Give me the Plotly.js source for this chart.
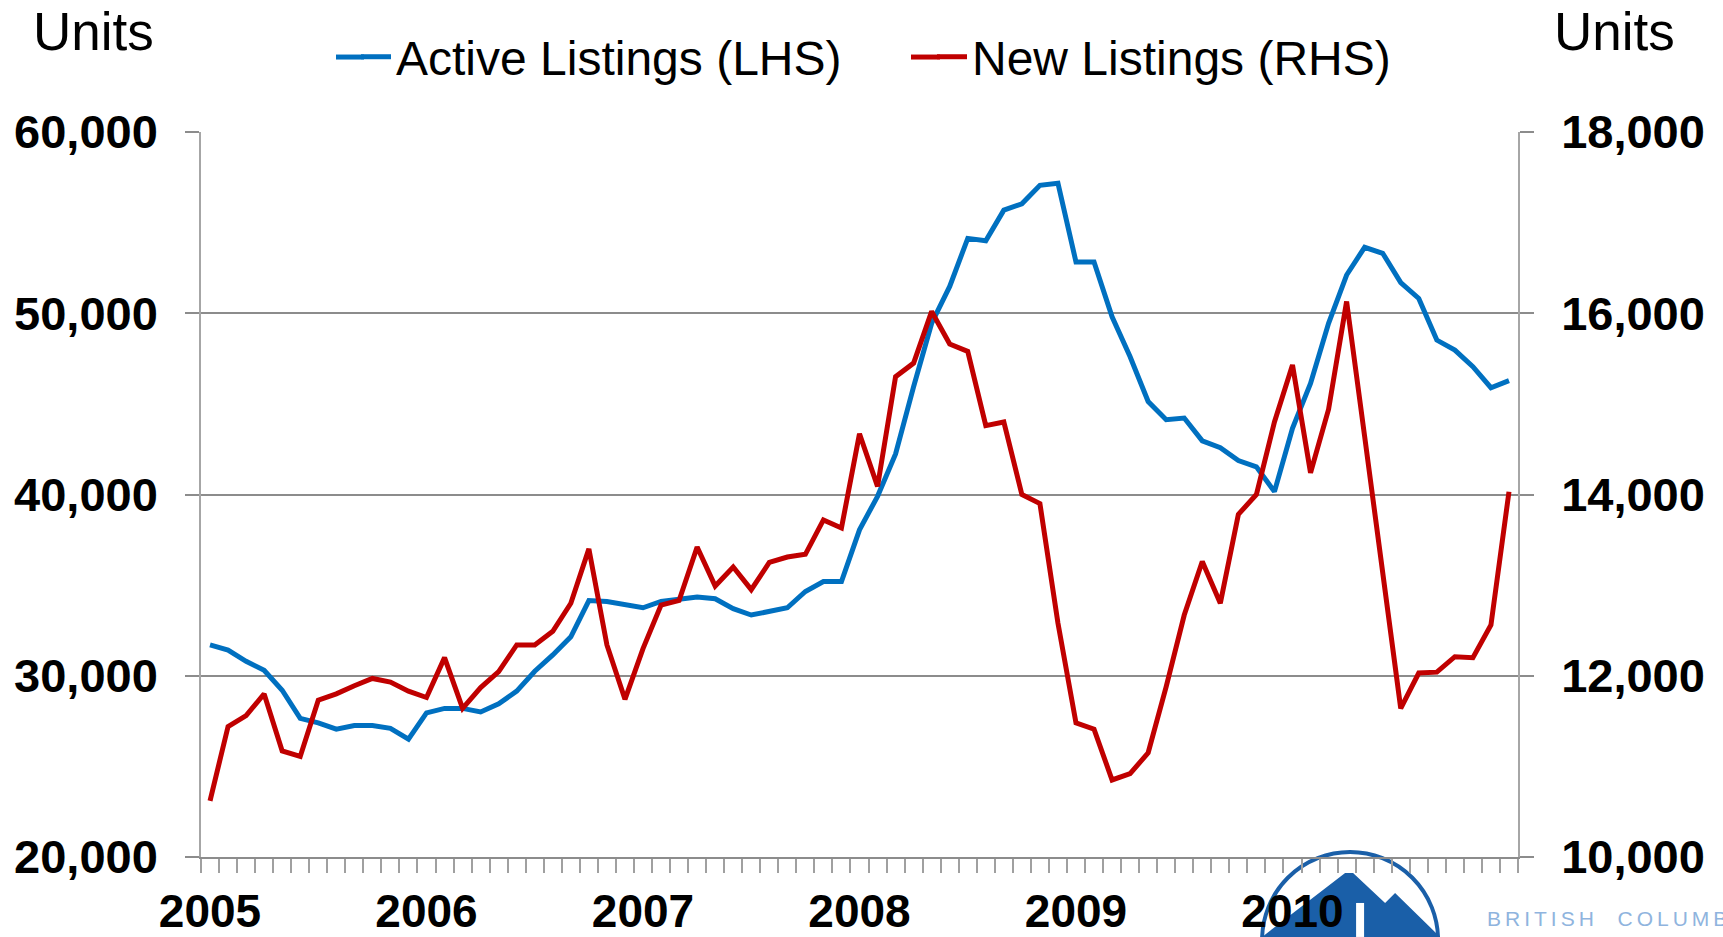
<!DOCTYPE html>
<html>
<head>
<meta charset="utf-8">
<script src="https://cdn.plot.ly/plotly-3.0.1.min.js"></script>
<style>
  html, body { margin: 0; padding: 0; background: #ffffff; }
  #chart { width: 1723px; height: 937px; }
  g.annotation[data-index="2"] text { letter-spacing: 4px; }
</style>
</head>
<body>
<div id="chart"></div>
<script>
// Monthly categories, Jan 2005 - Jan 2011
const months = [
  'Jan 2005','Feb 2005','Mar 2005','Apr 2005','May 2005','Jun 2005','Jul 2005','Aug 2005','Sep 2005','Oct 2005','Nov 2005','Dec 2005',
  'Jan 2006','Feb 2006','Mar 2006','Apr 2006','May 2006','Jun 2006','Jul 2006','Aug 2006','Sep 2006','Oct 2006','Nov 2006','Dec 2006',
  'Jan 2007','Feb 2007','Mar 2007','Apr 2007','May 2007','Jun 2007','Jul 2007','Aug 2007','Sep 2007','Oct 2007','Nov 2007','Dec 2007',
  'Jan 2008','Feb 2008','Mar 2008','Apr 2008','May 2008','Jun 2008','Jul 2008','Aug 2008','Sep 2008','Oct 2008','Nov 2008','Dec 2008',
  'Jan 2009','Feb 2009','Mar 2009','Apr 2009','May 2009','Jun 2009','Jul 2009','Aug 2009','Sep 2009','Oct 2009','Nov 2009','Dec 2009',
  'Jan 2010','Feb 2010','Mar 2010','Apr 2010','May 2010','Jun 2010','Jul 2010','Aug 2010','Sep 2010','Oct 2010','Nov 2010','Dec 2010',
  'Jan 2011'
];

// Active Listings (LHS), units
const activeListings = [
  31700, 31420, 30800, 30300, 29200, 27650, 27400, 27050, 27250, 27250, 27100, 26500,
  27950, 28200, 28200, 28000, 28450, 29150, 30250, 31150, 32150, 34150, 34100, 33900,
  33750, 34100, 34250, 34350, 34250, 33700, 33350, 33550, 33750, 34650, 35200, 35200,
  38050, 39900, 42240, 45950, 49450, 51480, 54130, 54000, 55690, 56040, 57060, 57170,
  52830, 52830, 49800, 47600, 45130, 44130, 44220, 42960, 42580, 41870, 41530, 40160,
  43650, 46130, 49440, 52110, 53640, 53310, 51690, 50820, 48520, 47970, 47050, 45890,
  46280
];

// New Listings (RHS), units
const newListings = [
  10620, 11440, 11560, 11800, 11170, 11110, 11730, 11800, 11890, 11970, 11930, 11830,
  11760, 12200, 11640, 11870, 12045, 12340, 12340, 12490, 12800, 13400, 12340, 11740,
  12300, 12780, 12830, 13420, 12990, 13200, 12950, 13250, 13310, 13340, 13720, 13630,
  14670, 14090, 15300, 15450, 16020, 15660, 15580, 14760, 14800, 14000, 13900, 12580,
  11480, 11410, 10850, 10920, 11150, 11880, 12670, 13260, 12800, 13780, 14000, 14800,
  15430, 14240, 14940, 16130, 14640, 13150, 11640, 12030, 12040, 12210, 12200, 12560,
  14030
];

const yearLabels = ['2005', '2006', '2007', '2008', '2009', '2010'];
const seriesNames = ['Active Listings (LHS)', 'New Listings (RHS)'];
const seriesColors = ['#0070C0', '#C00000'];
const unitsLabel = 'Units';
const logoText = 'BRITISH  COLUMBIA';

const xIdx = months.map((m, i) => i);
const yearTickVals = yearLabels.map(y => months.indexOf('Jan ' + y));

const FONT = 'Liberation Sans, Arial, Helvetica, sans-serif';
const GRID = '#8c8c8c';
const LW = 5;

const traces = [
  {
    x: xIdx, y: activeListings, text: months, name: seriesNames[0],
    type: 'scatter', mode: 'lines', yaxis: 'y',
    line: { color: seriesColors[0], width: LW },
    hovertemplate: '%{text}: %{y:,}<extra></extra>'
  },
  {
    x: xIdx, y: newListings, text: months, name: seriesNames[1],
    type: 'scatter', mode: 'lines', yaxis: 'y2',
    line: { color: seriesColors[1], width: LW },
    hovertemplate: '%{text}: %{y:,}<extra></extra>'
  }
];

// legend swatch extensions (the reference uses longer legend line samples)
const legendLineY = 1.1034;
const legendExt = [[0.1025, 0.1238], [0.5391, 0.5611]];

const layout = {
  width: 1723, height: 937,
  paper_bgcolor: '#ffffff', plot_bgcolor: '#ffffff',
  margin: { l: 201, r: 205, t: 132, b: 80, pad: 0 },
  font: { family: FONT, color: '#000000' },
  showlegend: true,
  legend: {
    orientation: 'h', x: 0.1177, xanchor: 'left', y: legendLineY, yanchor: 'middle',
    font: { family: FONT, size: 48, color: '#000000' },
    bgcolor: 'rgba(0,0,0,0)', entrywidth: 531, entrywidthmode: 'pixels',
    itemclick: false, itemdoubleclick: false
  },
  xaxis: {
    range: [-0.5, xIdx.length - 0.5],
    tickmode: 'array', tickvals: yearTickVals, ticktext: yearLabels,
    ticks: '', showgrid: false, zeroline: false,
    showline: true, linecolor: GRID, linewidth: 2,
    tickfont: { family: FONT, size: 46, color: '#000000', weight: 'bold' },
    ticklabelstandoff: 13,
    minor: { tickmode: 'linear', tick0: -0.5, dtick: 1, ticks: 'outside', ticklen: 14, tickcolor: '#a0a0a0', tickwidth: 1.5, showgrid: false },
    fixedrange: true
  },
  yaxis: {
    range: [20000, 60000], tickmode: 'linear', tick0: 20000, dtick: 10000,
    tickformat: ',d', showgrid: true, gridcolor: GRID, gridwidth: 2,
    zeroline: false, showline: true, linecolor: '#a6a6a6', linewidth: 1.5,
    ticks: 'outside', ticklen: 14, tickcolor: GRID, tickwidth: 2,
    tickfont: { family: FONT, size: 47, color: '#000000', weight: 'bold' },
    ticklabelstandoff: 18, fixedrange: true
  },
  yaxis2: {
    overlaying: 'y', side: 'right',
    range: [10000, 18000], tickmode: 'linear', tick0: 10000, dtick: 2000,
    tickformat: ',d', showgrid: false, zeroline: false,
    showline: true, linecolor: '#a6a6a6', linewidth: 1.5,
    ticks: 'outside', ticklen: 14, tickcolor: GRID, tickwidth: 2,
    tickfont: { family: FONT, size: 47, color: '#000000', weight: 'bold' },
    ticklabelstandoff: 18, fixedrange: true
  },
  annotations: [
    { text: unitsLabel, xref: 'paper', yref: 'paper', x: -0.1292, xanchor: 'left', y: 1.182, yanchor: 'top',
      showarrow: false, font: { family: FONT, size: 53, color: '#000000' } },
    { text: unitsLabel, xref: 'paper', yref: 'paper', x: 1.0255, xanchor: 'left', y: 1.182, yanchor: 'top',
      showarrow: false, font: { family: FONT, size: 53, color: '#000000' } },
    { text: logoText, xref: 'paper', yref: 'paper', x: 0.975, xanchor: 'left', align: 'left', y: -0.0855, yanchor: 'middle',
      showarrow: false, font: { family: FONT, size: 21, color: '#8fb4de' } }
  ],
  shapes: [
    { type: 'line', xref: 'paper', yref: 'paper', x0: legendExt[0][0], x1: legendExt[0][1], y0: legendLineY, y1: legendLineY,
      line: { color: seriesColors[0], width: LW } },
    { type: 'line', xref: 'paper', yref: 'paper', x0: legendExt[1][0], x1: legendExt[1][1], y0: legendLineY, y1: legendLineY,
      line: { color: seriesColors[1], width: LW } },
    { type: 'circle', xref: 'paper', yref: 'paper', xsizemode: 'pixel', ysizemode: 'pixel',
      xanchor: 0.8725, yanchor: -0.1145, x0: -88, x1: 88, y0: -88, y1: 88,
      line: { color: '#1a5fa8', width: 4 }, fillcolor: 'rgba(0,0,0,0)', layer: 'below' },
    { type: 'path', xref: 'paper', yref: 'paper', xsizemode: 'pixel', ysizemode: 'pixel',
      xanchor: 0.8725, yanchor: -0.1103,
      path: 'M-88,0 L-5,64 L3,64 L35,34 L45,44 L90,0 Z',
      line: { width: 0 }, fillcolor: '#1a5fa8', layer: 'below' },
    { type: 'rect', xref: 'paper', yref: 'paper', xsizemode: 'pixel', ysizemode: 'pixel',
      xanchor: 0.8725, yanchor: -0.1103, x0: 6, x1: 14, y0: 0, y1: 34,
      line: { width: 0 }, fillcolor: '#ffffff', layer: 'below' }
  ]
};

Plotly.newPlot('chart', traces, layout, { displayModeBar: false, responsive: false });
</script>
</body>
</html>
